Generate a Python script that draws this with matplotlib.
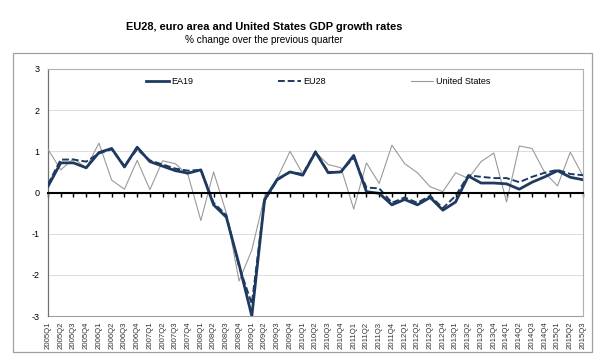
import matplotlib
matplotlib.use("Agg")
import matplotlib.pyplot as plt
from matplotlib.patches import Rectangle

plt.rcParams['font.family'] = ['Liberation Sans', 'DejaVu Sans']

quarters = [f"{y}Q{q}" for y in range(2005, 2016) for q in range(1, 5)][:43]

ea19 = [0.15, 0.72, 0.72, 0.60, 0.97, 1.07, 0.62, 1.10, 0.75, 0.64,
        0.53, 0.47, 0.55, -0.30, -0.60, -1.75, -3.00, -0.18, 0.32, 0.50,
        0.42, 0.98, 0.48, 0.50, 0.90, 0.02, -0.02, -0.30, -0.17, -0.30,
        -0.12, -0.43, -0.23, 0.40, 0.23, 0.23, 0.21, 0.08, 0.25, 0.38,
        0.53, 0.37, 0.31]
eu28 = [0.20, 0.80, 0.80, 0.75, 0.95, 1.05, 0.65, 1.05, 0.78, 0.68,
        0.58, 0.53, 0.55, -0.25, -0.55, -1.80, -2.70, -0.20, 0.30, 0.50,
        0.45, 1.00, 0.50, 0.50, 0.85, 0.12, 0.10, -0.25, -0.12, -0.25,
        -0.08, -0.38, -0.08, 0.42, 0.38, 0.35, 0.35, 0.25, 0.38, 0.48,
        0.55, 0.45, 0.42]
us = [1.05, 0.55, 0.82, 0.60, 1.20, 0.30, 0.08, 0.78, 0.07, 0.77,
      0.70, 0.42, -0.68, 0.50, -0.50, -2.15, -1.40, -0.10, 0.35, 1.00,
      0.45, 0.98, 0.68, 0.60, -0.40, 0.72, 0.22, 1.15, 0.70, 0.48,
      0.14, 0.02, 0.48, 0.34, 0.75, 0.96, -0.23, 1.13, 1.07, 0.48,
      0.16, 0.98, 0.40]
yticks = [-3, -2, -1, 0, 1, 2, 3]

navy = '#1F3A60'
grey = '#9A9A9A'

fig = plt.figure(figsize=(6, 3.6), dpi=100)
fig.patches.append(Rectangle((13/600, 8/360), 579/600, 299/360, transform=fig.transFigure,
                             fill=False, edgecolor='#A0A0A0', linewidth=0.9))
fig.text(264/600, 1 - 27/360, "EU28, euro area and United States GDP growth rates",
         ha='center', va='center', fontsize=7.9, fontweight='bold')
fig.text(264/600, 1 - 40/360, "% change over the previous quarter",
         ha='center', va='center', fontsize=7.2)

ax = fig.add_axes([48/600, 44/360, 535/600, 247/360])
x = list(range(len(quarters)))
ax.plot(x, us, color=grey, linewidth=0.8, label='United States', zorder=3)
ax.plot(x, eu28, color=navy, linewidth=1.4, linestyle=(0, (3.5, 1.5)), label='EU28', zorder=4)
ax.plot(x, ea19, color=navy, linewidth=2.0, label='EA19', zorder=5)

ax.set_xlim(0, len(quarters) - 1)
ax.set_ylim(-3, 3)
ax.set_yticks(yticks)
ax.set_yticklabels([str(v) for v in yticks], fontsize=6.5)
ax.tick_params(axis='y', length=0, pad=6)
for v in yticks:
    if v not in (0, -3, 3):
        ax.axhline(v, color='#DCDCDC', linewidth=0.7, zorder=1)

ax.spines['bottom'].set_position(('data', 0))
ax.spines['bottom'].set_linewidth(1.5)
ax.spines['bottom'].set_color('black')
ax.spines['bottom'].set_zorder(6)
ax.set_xticks(x)
ax.tick_params(axis='x', direction='out', length=3, width=1.0, labelbottom=False, color='black')
ax.spines['left'].set_color('#707070')
ax.spines['left'].set_linewidth(0.9)
for s in ('top', 'right'):
    ax.spines[s].set_color('#B0B0B0')
    ax.spines[s].set_linewidth(0.8)

sec = ax.secondary_xaxis('bottom')
sec.set_xticks(x)
sec.set_xticklabels(quarters, rotation=90, fontsize=5.6, color='#333333')
sec.tick_params(axis='x', length=0, pad=4)
sec.spines['bottom'].set_color('#A0A0A0')
sec.spines['bottom'].set_linewidth(0.8)

h, l = ax.get_legend_handles_labels()
order = [2, 1, 0]
ax.legend([h[i] for i in order], [l[i] for i in order], ncol=3, frameon=False,
          loc='upper left', bbox_to_anchor=(98/535, 1 - 8/247), fontsize=6.5,
          handlelength=2.5, handletextpad=0.3, columnspacing=9.4, borderaxespad=0,
          borderpad=0)

fig.savefig('out.png', dpi=100, facecolor='white')
